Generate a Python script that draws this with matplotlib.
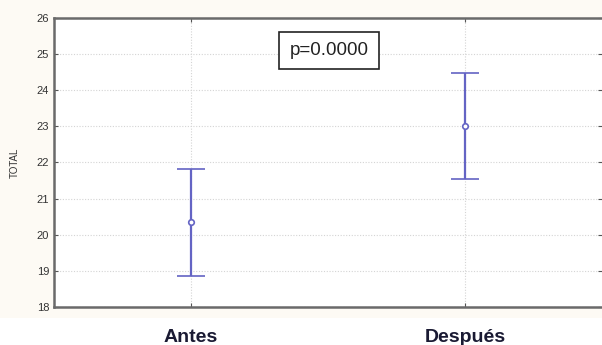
import matplotlib
matplotlib.use("Agg")
import matplotlib.pyplot as plt
import matplotlib.transforms as mtransforms
from matplotlib.patches import Rectangle

plt.rcParams['font.family'] = ['Liberation Sans', 'DejaVu Sans']

categories = ['Antes', 'Después']
means = [20.35, 23.01]
upper = [21.82, 24.48]
lower = [18.85, 21.54]
p_label = 'p=0.0000'

line_color = '#6464c4'

fig = plt.figure(figsize=(6.02, 3.45), dpi=100)
# fondo crema detras del grafico
fig.patches.append(Rectangle((0, 0.078), 1, 0.922, transform=fig.transFigure,
                             facecolor='#fdfaf4', edgecolor='none', zorder=-1))
ax = fig.add_axes([0.0897, 0.110, 0.9103, 0.838])

x = list(range(len(categories)))
err_lo = [m - l for m, l in zip(means, lower)]
err_hi = [u - m for m, u in zip(means, upper)]
ax.errorbar(x, means, yerr=[err_lo, err_hi], fmt='o', color=line_color,
            mfc='white', mec=line_color, ms=4, mew=1.2, elinewidth=1.6,
            capsize=10, capthick=1.6, zorder=3)

ax.set_xlim(-0.5, 1.5)
ax.set_ylim(18, 26)
ax.set_yticks(range(18, 27))
ax.set_xticks(x)
ax.set_xticklabels([])
ax.grid(True, linestyle=(0, (1, 1.5)), color='#d4d4d4', linewidth=0.8)
ax.set_axisbelow(True)

for side in ['left', 'bottom', 'top']:
    ax.spines[side].set_color('#6a6a6a')
    ax.spines[side].set_linewidth(1.8)
ax.spines['right'].set_visible(False)
ax.tick_params(axis='y', direction='in', length=3, labelsize=8, labelcolor='#333333',
               color='#555555', right=True)
ax.tick_params(axis='x', direction='in', length=3, color='#555555', top=True)

ax.set_ylabel('TOTAL', fontsize=7, color='#333333', labelpad=12)

# etiquetas de categorias debajo del eje
trans = mtransforms.blended_transform_factory(ax.transData, fig.transFigure)
for xi, name in zip(x, categories):
    ax.text(xi, 0.022, name, transform=trans, ha='center', va='center',
            fontsize=14, fontweight='bold', color='#1a1a33')

ax.text(0.504, 25.1, p_label, ha='center', va='center', fontsize=13.5, color='#222222',
        bbox=dict(boxstyle='square,pad=0.55', facecolor='white', edgecolor='#222222', linewidth=1.2))

fig.savefig('out.png', dpi=100)
